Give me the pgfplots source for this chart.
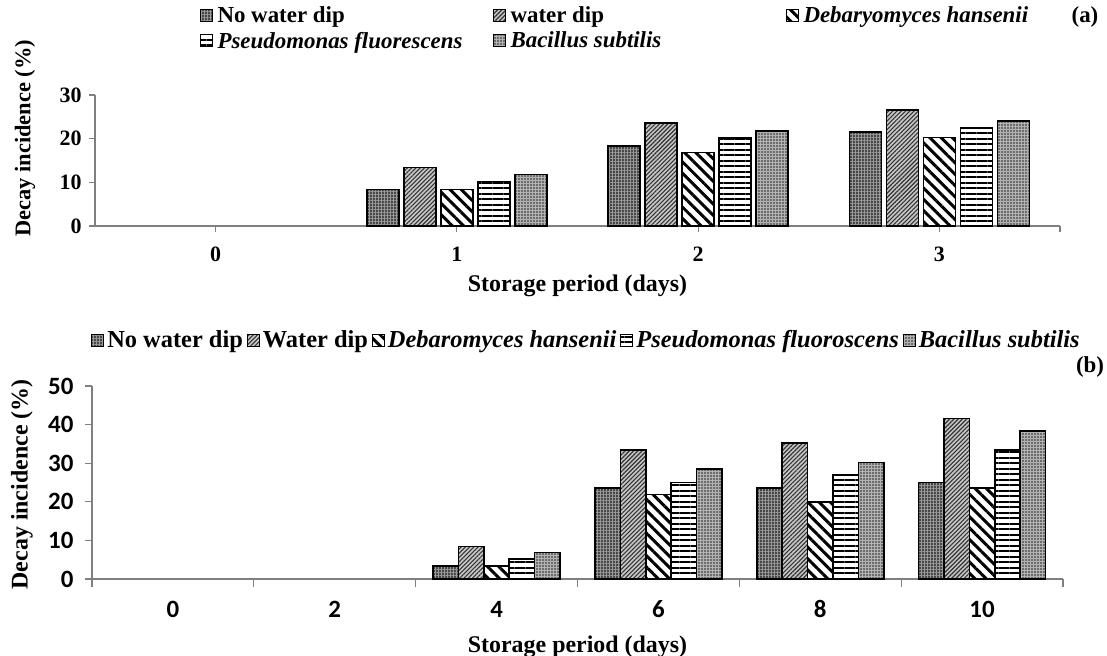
\documentclass[border=0pt]{standalone}
\usepackage{fontspec}
\setmainfont{Liberation Serif}
\newfontfamily\calibri{Carlito}
\usepackage{pgfplots}
\pgfplotsset{compat=1.18}
\usetikzlibrary{patterns,patterns.meta}
\newcommand\lab{\fontsize{24}{28}\selectfont\bfseries}
\newcommand\laba{\fontsize{22.5}{26}\selectfont\bfseries}
\newcommand\tlf{\fontsize{22}{26}\selectfont\bfseries}
\newcommand\cbf{\calibri\fontsize{25}{30}\selectfont\bfseries}
\newcommand\lgf{\fontsize{23}{26}\selectfont\bfseries}
\newcommand\lgfb{\fontsize{24.5}{28}\selectfont\bfseries}
\newcommand\cell[1]{\makebox[274bp][l]{#1}}
\tikzset{
  bb/.style={draw=black, line width=1.6bp},
  nwd/.style={bb, fill=black!72, postaction={pattern={Hatch[angle=0,distance=3bp,line width=0.5bp]}, pattern color=black!40}},
  wd/.style={bb, fill=black!22, postaction={pattern={Lines[angle=45,distance=3bp,line width=1.1bp]}, pattern color=black!80}},
  deb/.style={bb, fill=white, postaction={pattern={Lines[angle=-45,distance=8bp,line width=3bp]}, pattern color=black}},
  pse/.style={bb, fill=white, postaction={pattern={Lines[angle=0,distance=5.5bp,line width=2bp]}, pattern color=black}},
  bac/.style={bb, fill=black!30, postaction={pattern={Dots[distance=3bp,radius=0.9bp]}, pattern color=black!85}},
}
\pgfplotsset{
  common/.style={
    scale only axis,
    axis x line=bottom, axis y line=left,
    axis line style={black!50, line width=1.2bp, -},
    tick style={black!50, line width=1.2bp},
    tick align=outside,
    ymin=0,
    /pgf/number format/assume math mode=true,
    legend cell align=left,
  },
  boxlegend/.style={
    legend image code/.code={\draw[##1, line width=1bp] (0bp,-6bp) rectangle (12bp,6bp);},
  },
}
\begin{document}
\begin{tikzpicture}
\path[use as bounding box] (0bp,0bp) rectangle (1107bp,-656bp);
% ---------------- (a)
\begin{axis}[common,
  at={(95bp,-226bp)}, anchor=south west, width=965bp, height=131bp,
  xmin=-0.5, xmax=3.5, ymax=30,
  xtick={0,1,2,3}, xticklabels={0,1,2,3},
  extra x ticks={3.5}, extra x tick labels={},
  ytick={0,10,20,30}, yticklabels={0,10,20,30},
  major tick length=6bp,
  ybar=5bp, bar width=32bp, boxlegend,
  xticklabel style={font=\tlf, anchor=center, yshift=-22bp},
  yticklabel style={font=\tlf, anchor=east, xshift=-4bp},
  xlabel={Storage period (days)}, ylabel={Decay incidence (\%)},
  xlabel style={font=\lab, at={(axis description cs:0.5,0)}, anchor=center, yshift=-60bp},
  ylabel style={font=\laba, at={(axis description cs:-0.0725,0.67)}, anchor=center},
  legend columns=3,
  legend style={at={(axis description cs:0.105,1.70)}, anchor=north west, draw=none, fill=none, font=\lgf,
    /tikz/every odd column/.append style={column sep=4bp},
    /tikz/row sep=6bp,
    nodes={inner sep=1bp}},
]
\addplot[nwd] coordinates {(1,8.4) (2,18.3) (3,21.5)};
\addplot[wd] coordinates {(1,13.4) (2,23.6) (3,26.5)};
\addplot[deb] coordinates {(1,8.4) (2,16.8) (3,20.3)};
\addplot[pse] coordinates {(1,10.2) (2,20.2) (3,22.5)};
\addplot[bac] coordinates {(1,11.8) (2,21.7) (3,24.0)};
\legend{\cell{No water dip}, \cell{water dip}, \cell{\textit{Debaryomyces hansenii}}, \cell{\textit{Pseudomonas fluorescens}}, \cell{\textit{Bacillus subtilis}}}
\end{axis}
% ---------------- (b)
\begin{axis}[common,
  at={(92bp,-579bp)}, anchor=south west, width=971bp, height=193bp,
  xmin=-0.5, xmax=5.5, ymax=50,
  xtick={0,1,2,3,4,5}, xticklabels={0,2,4,6,8,10},
  minor xtick={-0.5,0.5,1.5,2.5,3.5,4.5,5.5},
  major x tick style={draw=none},
  minor tick length=8bp, major tick length=7bp,
  ytick={0,10,20,30,40,50}, yticklabels={0,10,20,30,40,50},
  ybar=0bp, bar width=25.4bp, boxlegend,
  xticklabel style={font=\cbf, anchor=center, yshift=-23bp},
  yticklabel style={font=\cbf, anchor=east, xshift=-8bp},
  xlabel={Storage period (days)}, ylabel={Decay incidence (\%)},
  xlabel style={font=\lab, at={(axis description cs:0.5,0)}, anchor=center, yshift=-68bp},
  ylabel style={font=\lab, at={(axis description cs:-0.0721,0.49)}, anchor=center},
  legend columns=5,
  legend style={at={(axis description cs:-0.004,1.238)}, anchor=west, draw=none, fill=none, font=\lgfb,
    /tikz/every odd column/.append style={column sep=2bp},
    /tikz/every even column/.append style={column sep=3bp},
    nodes={inner sep=1bp}},
]
\addplot[nwd] coordinates {(2,3.3) (3,23.6) (4,23.6) (5,25.0)};
\addplot[wd] coordinates {(2,8.4) (3,33.4) (4,35.3) (5,41.6)};
\addplot[deb] coordinates {(2,3.3) (3,21.9) (4,20.0) (5,23.6)};
\addplot[pse] coordinates {(2,5.2) (3,25.0) (4,26.9) (5,33.4)};
\addplot[bac] coordinates {(2,6.9) (3,28.5) (4,30.2) (5,38.4)};
\legend{No water dip, Water dip, \textit{Debaromyces hansenii}, \textit{Pseudomonas fluoroscens}, \textit{Bacillus subtilis}}
\end{axis}
\node[font=\lgf] at (1085bp,-17bp) {(a)};
\node[font=\lgf] at (1090bp,-367bp) {(b)};
\end{tikzpicture}
\end{document}
